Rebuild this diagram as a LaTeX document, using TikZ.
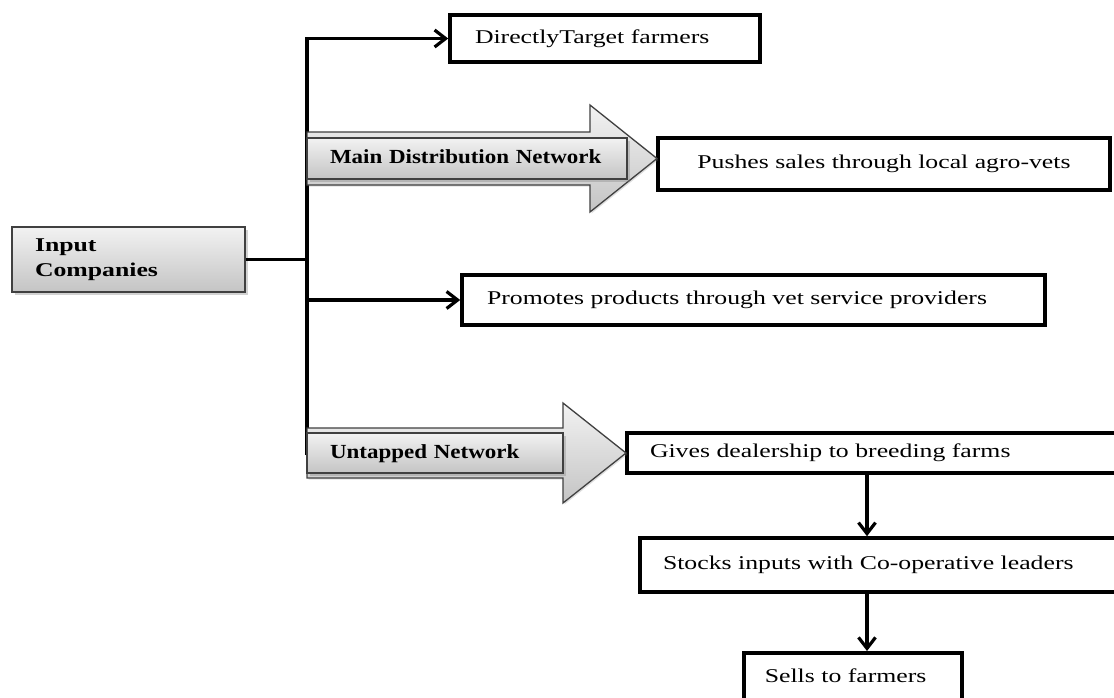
\documentclass[tikz,border=0pt]{standalone}
\usepackage{fontspec}
\setmainfont{Liberation Serif}[FakeStretch=1.32]
\newfontfamily\arrowlabelfont{Liberation Serif}[FakeStretch=1.15]
\usetikzlibrary{arrows.meta,shadows,calc}

\definecolor{shadetop}{RGB}{242,242,242}
\definecolor{shadebot}{RGB}{196,196,196}
\definecolor{edgegray}{RGB}{64,64,64}

\tikzset{
  conn/.style={line width=3.2pt},
  arr/.style={conn, -{Straight Barb[length=11pt,width=17pt]}},
  box/.style={draw=black, line width=3.6pt, fill=white,
    font=\fontsize{19.5}{24}\selectfont, text height=14pt, text depth=5pt,
    inner ysep=0pt},
  leftbox/.style={box, align=left},
  graybox/.style={draw=edgegray, line width=1.4pt, top color=shadetop, bottom color=shadebot,
    drop shadow={opacity=0.35, shadow xshift=2.5pt, shadow yshift=-2.5pt}},
  bandlabel/.style={graybox, align=left, inner ysep=0pt,
    font=\arrowlabelfont\bfseries\fontsize{20}{24}\selectfont, text height=14pt, text depth=4pt},
  bigarrow/.style={draw=edgegray, line width=1.3pt, top color=shadetop, bottom color=shadebot,
    drop shadow={opacity=0.25, shadow xshift=1.5pt, shadow yshift=-1.5pt}}
}

\begin{document}
\begin{tikzpicture}[x=1pt,y=-1pt]
\useasboundingbox (0,0) rectangle (1114,697);
\clip (0,0) rectangle (1114,697);
\fill[white] (0,0) rectangle (1114,697);

% source box
\node[graybox, align=left, text width=187pt, inner xsep=23pt, minimum height=65pt,
      font=\bfseries\fontsize{19.5}{25}\selectfont] (ic) at (128.5,259.5) {Input\\Companies};

% target boxes
\node[leftbox, text width=260pt, inner xsep=25pt, minimum height=47pt] (dt) at (605,38.5) {DirectlyTarget farmers};
\node[box, minimum width=452pt, minimum height=52pt] (ps) at (884,164) {Pushes sales through local agro-vets};
\node[leftbox, text width=533pt, inner xsep=25pt, minimum height=50pt] (pp) at (753.5,300) {Promotes products through vet service providers};
\node[leftbox, text width=474pt, inner xsep=23pt, minimum height=40pt] (gd) at (887,453) {Gives dealership to breeding farms};
\node[leftbox, text width=454pt, inner xsep=23pt, minimum height=54pt] (si) at (890,565) {Stocks inputs with Co-operative leaders};
\node[leftbox, anchor=north west, text width=176pt, inner xsep=21pt, inner ysep=16pt, text depth=30pt] (sf) at (742,651) {Sells to farmers};

% branching trunk
\coordinate (trunk) at (307,455);
\coordinate (vx) at (867,0);
\draw[arr] (trunk) |- (dt.west);
\draw[conn] (ic.east) -- (ic.east -| trunk);
\draw[arr] (pp.west -| trunk) -- (pp.west);

% wide distribution arrows
\path[bigarrow] (307,132) -- (590,132) -- (590,105) -- (657,158.5) -- (590,212) -- (590,185) -- (307,185) -- cycle;
\path[bigarrow] (307,428) -- (563,428) -- (563,403) -- (626,453) -- (563,503) -- (563,478) -- (307,478) -- cycle;
\node[bandlabel, text width=274pt, inner xsep=23pt, minimum height=41pt] (mdn) at (467,158.5) {Main Distribution Network};
\node[bandlabel, text width=210pt, inner xsep=23pt, minimum height=40pt] (un) at (435,453) {Untapped Network};

% downstream chain
\draw[arr] (gd.south -| vx) -- (si.north -| vx);
\draw[arr] (si.south -| vx) -- (sf.north -| vx);
\end{tikzpicture}
\end{document}
